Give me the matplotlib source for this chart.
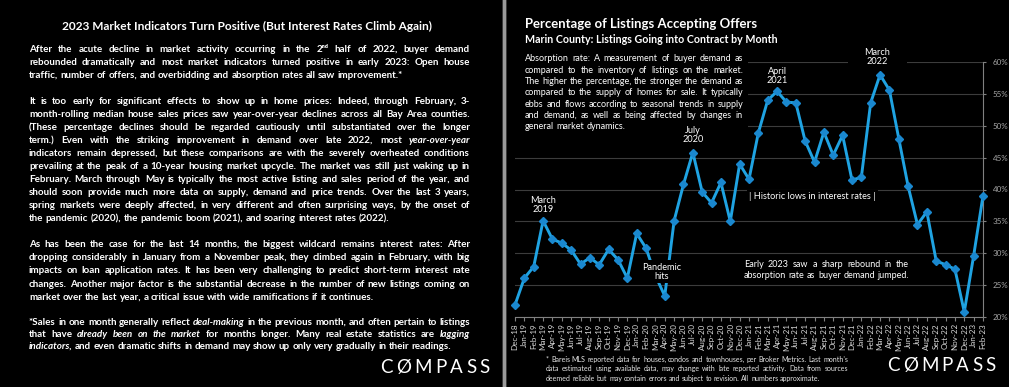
import matplotlib.pyplot as plt
from matplotlib.patches import Rectangle

plt.rcParams["font.family"] = ["Lato", "DejaVu Sans"]

W, H = 1009, 387

# --- data ---
mon = ["Jan", "Feb", "Mar", "Apr", "May", "Jun", "Jul", "Aug", "Sep", "Oct", "Nov", "Dec"]
months = ["Dec-18"] + [f"{m}-{y}" for y in ("19", "20", "21", "22") for m in mon] + ["Jan-23", "Feb-23"]
rate = [
    21.9,
    26.1, 27.9, 35.1, 32.2, 31.6, 30.5, 28.3, 29.3, 28.2, 30.6, 29.0, 26.1,
    33.1, 30.8, 26.5, 23.3, 35.1, 40.8, 45.8, 39.6, 37.9, 41.1, 35.0, 44.0,
    41.6, 48.9, 54.0, 55.4, 53.7, 53.6, 47.6, 44.3, 49.0, 45.4, 48.5, 41.5,
    41.9, 53.6, 58.0, 55.6, 48.0, 40.5, 34.5, 36.5, 28.8, 28.2, 27.5, 20.8,
    29.6, 39.0,
]
yticks = [20, 25, 30, 35, 40, 45, 50, 55, 60]

# --- text ---
left_title = "2023 Market Indicators Turn Positive (But Interest Rates Climb Again)"
para1 = [
    "After the acute decline in market activity occurring in the 2ⁿᵈ half of 2022, buyer demand",
    "rebounded dramatically and most market indicators turned positive in early 2023:  Open house",
    "traffic, number of offers, and overbidding and absorption rates all saw improvement.*",
]
para2 = [
    "It is too early for significant effects to show up in home prices:  Indeed, through February, 3-",
    "month-rolling median house sales prices saw year-over-year declines across all Bay Area counties.",
    "(These percentage declines should be regarded cautiously until substantiated over the longer",
    "term.) Even with the striking improvement in demand over late 2022, most _year-over-year_",
    "indicators remain depressed, but these comparisons are with the severely overheated  conditions",
    "prevailing at the peak of a 10-year housing market upcycle. The market was still just waking up in",
    "February. March through May is typically the most active listing and sales period of the year, and",
    "should soon provide much more data on supply, demand and price trends. Over the last 3 years,",
    "spring markets were deeply affected, in very different and often surprising ways, by the onset of",
    "the pandemic (2020), the pandemic boom (2021), and soaring interest rates (2022).",
]
para3 = [
    "As has been the case for the last 14 months, the biggest wildcard remains interest rates: After",
    "dropping considerably in January from a November peak, they climbed again in February, with big",
    "impacts on loan application rates. It has been very challenging to predict short-term interest rate",
    "changes. Another major factor is the substantial decrease in the number of new listings coming on",
    "market over the last year, a critical issue with wide ramifications if it continues.",
]
para4 = [
    "*Sales in one month generally reflect _deal-making_ in the previous month, and often pertain to listings",
    "that have _already_ _been_ _on_ _the_ _market_ for months longer. Many real estate statistics are _lagging_",
    "_indicators_, and even dramatic shifts in demand may show up only very gradually in their readings.",
]
chart_title = "Percentage of Listings Accepting Offers"
chart_sub = "Marin County: Listings Going into Contract by Month"
absorption = [
    "Absorption rate:  A measurement of buyer demand as",
    "compared to the inventory of listings on the market.",
    "The higher the percentage, the stronger the demand as",
    "compared to the supply of homes for sale. It typically",
    "ebbs and flows according to seasonal trends in supply",
    "and demand, as well as being affected by changes in",
    "general market dynamics.",
]
early = [
    "Early 2023 saw a sharp rebound in the",
    "absorption rate as buyer demand jumped.",
]
footnote = [
    "* Bareis MLS reported data for houses, condos and townhouses, per Broker Metrics. Last month's",
    "data estimated using available data, may change with late reported activity. Data from sources",
    "deemed reliable but may contain errors and subject to revision. All numbers approximate.",
]

fig = plt.figure(figsize=(W / 100, H / 100), dpi=100, facecolor="black")
rend = fig.canvas.get_renderer()


def fx(x):
    return x / W


def fy(y):
    return 1 - y / H


def text_w(s, size, weight="normal", style="normal"):
    t = fig.text(0, 0, s, fontsize=size, fontweight=weight, style=style)
    w = t.get_window_extent(rend).width
    t.remove()
    return w


def split_words(line):
    out = []
    for w in line.split():
        if w.startswith("_"):
            out.append((w.replace("_", ""), "italic"))
        else:
            out.append((w, "normal"))
    return out


def natural_w(line, size, weight):
    sp = text_w("a a", size, weight) - text_w("aa", size, weight)
    words = split_words(line)
    return sum(text_w(w, size, weight, st) for w, st in words) + sp * (len(words) - 1)


def fit_size(lines, width, weight, base=10.0):
    return base * min(width / natural_w(l, base, weight) for l in lines)


def paragraph(lines, x0, x1, y0, dy, size, weight="bold", color="white", last_left=True):
    # justified lines, words placed one by one on a common (whole pixel) baseline
    sp = text_w("a a", size, weight) - text_w("aa", size, weight)
    for i, line in enumerate(lines):
        words = split_words(line)
        ws = [text_w(w, size, weight, st) for w, st in words]
        if (last_left and i == len(lines) - 1) or len(words) == 1:
            gap = sp
        else:
            gap = (x1 - x0 - sum(ws)) / (len(words) - 1)
        x = x0
        yb = round(y0 + i * dy + 0.3 * size / 0.72)
        for (w, st), wd in zip(words, ws):
            fig.text(fx(x), fy(yb), w, fontsize=size, fontweight=weight,
                     style=st, color=color, ha="left", va="baseline", zorder=5)
            x += wd + gap


def logo(x0, x1, y, size):
    letters = "CØMPASS"
    ws = [text_w(c, size) for c in letters]
    gap = (x1 - x0 - sum(ws)) / (len(letters) - 1)
    x = x0
    for c, wd in zip(letters, ws):
        fig.text(fx(x), fy(y), c, fontsize=size, color="white", ha="left", va="center")
        x += wd + gap


# --- left panel ---
fig.text(fx(247.5), fy(26.5), left_title, color="white", fontweight="bold",
         fontsize=10 * 371 / text_w(left_title, 10, "bold"), ha="center", va="center")

body = [l for p in (para1, para2, para3, para4) for l in p[:-1]]
bsize = fit_size(body, 441, "bold")
paragraph(para1, 29, 470, 49, 13, bsize)
paragraph(para2, 29, 470, 101, 13, bsize)
paragraph(para3, 29, 470, 244, 13.2, bsize)
paragraph(para4, 29, 470, 321.7, 12.3, bsize)
logo(380, 490, 367.5, 13.5)

# divider between the panels
fig.add_artist(Rectangle((fx(501.5), 0), 6 / W, 1, transform=fig.transFigure, fc="#3a3a3a", ec="none"))
fig.add_artist(Rectangle((fx(503), 0), 3 / W, 1, transform=fig.transFigure, fc="#9a9a9a", ec="none"))

# --- right panel: chart ---
ax = fig.add_axes([fx(515), fy(317), (983 - 515) / W, (317 - 62) / H])
ax.set_facecolor("black")
x = list(range(len(months)))
ax.plot(x, rate, color="#1fa3e2", lw=2.1, marker="D", ms=4,
        mfc="#1a88cf", mec="#1a88cf", clip_on=False, zorder=3)
ax.set_xlim(0, len(months) - 1)
ax.set_ylim(20, 60)
ax.set_yticks(yticks)
ax.set_yticklabels([f"{v}%" for v in yticks])
ax.yaxis.tick_right()
ax.set_xticks(x)
ax.set_xticklabels(months, rotation=90, fontsize=5.8, color="#d9d9d9")
ax.grid(axis="y", color="#3c3c3c", lw=0.8)
ax.set_axisbelow(True)
for s in ["top", "left"]:
    ax.spines[s].set_visible(False)
for s in ["right", "bottom"]:
    ax.spines[s].set_color("#808080")
    ax.spines[s].set_linewidth(0.8)
ax.tick_params(axis="x", length=3, color="#808080", pad=1.5)
ax.tick_params(axis="y", length=2, color="#808080", labelsize=5.8, labelcolor="#a6a6a6", pad=5)

# black boxes behind the text blocks hide the grid lines
ax.add_patch(Rectangle((-1.5, 49.0), 26.4, 14.0, fc="black", ec="none", zorder=2, clip_on=False))
ax.add_patch(Rectangle((35.6, 59.3), 6.3, 3.2, fc="black", ec="none", zorder=2, clip_on=False))

lab = dict(ha="center", va="center", color="white", fontsize=6.6, linespacing=1.05,
           zorder=6, clip_on=False)
box = dict(fc="black", ec="none", pad=1.5)
ax.text(3, 37.6, "March\n2019", bbox=box, **lab)
ax.text(15.65, 27.1, "Pandemic\nhits", bbox=box, **lab)
ax.text(19, 48.55, "July\n2020", **lab)
ax.text(28, 57.8, "April\n2021", bbox=box, **lab)
ax.text(38.7, 60.8, "March\n2022", **lab)
ax.text(31.8, 38.9, "| Historic lows in interest rates |", bbox=box, **lab)

# titles and notes
tsize = 10 * 232 / text_w(chart_title, 10, "bold")
fig.text(fx(525), fy(24), chart_title, color="white", fontweight="bold", fontsize=tsize, va="center")
ssize = 10 * 252 / text_w(chart_sub, 10, "bold")
fig.text(fx(525), fy(39.3), chart_sub, color="white", fontweight="bold", fontsize=ssize, va="center")

asize = fit_size(absorption[:-1], 218, "normal")
paragraph(absorption, 525, 743, 58.7, 11.33, asize, weight="normal")

esize = fit_size(early, 165, "normal")
paragraph(early, 744, 909, 264, 11.7, esize, weight="normal", last_left=False)

fsize = fit_size(footnote[:-1], 302, "normal")
paragraph(footnote, 546, 848, 360, 9.3, fsize, weight="normal", color="#e6e6e6")
logo(887, 996, 365.5, 13.5)

plt.savefig("out.png", dpi=100, facecolor="black")
